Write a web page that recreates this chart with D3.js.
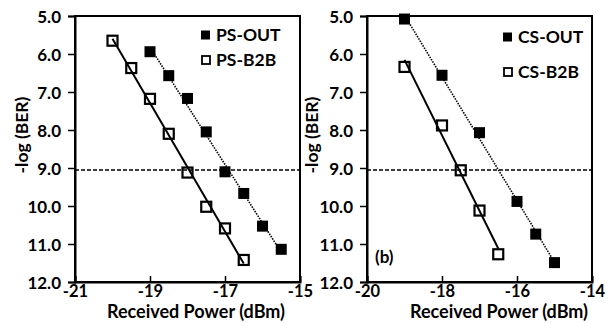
<!DOCTYPE html>
<html>
<head>
<meta charset="utf-8">
<script src="https://cdn.jsdelivr.net/npm/d3@7"></script>
<style>
  html, body { margin: 0; padding: 0; background: #fff; }
  svg { display: block; }
  text { font-family: Lato, "Open Sans", sans-serif; font-weight: bold; fill: #000; }
</style>
</head>
<body>
<svg id="chart" width="609" height="323"></svg>
<script>
// ---- Data ----
const yTicks = [5, 6, 7, 8, 9, 10, 11, 12];
const yTickLabels = ["5.0", "6.0", "7.0", "8.0", "9.0", "10.0", "11.0", "12.0"];
const threshold = 9.05;

// Panel (a)
const psXDomain = [-21, -15];
const psXTicks = [-21, -19, -17, -15];
const psOutX = [-19, -18.5, -18, -17.5, -17, -16.5, -16, -15.5];
const psOutY = [5.94, 6.57, 7.17, 8.05, 9.1, 9.67, 10.53, 11.14];
const psB2BX = [-20, -19.5, -19, -18.5, -18, -17.5, -17, -16.5];
const psB2BY = [5.65, 6.37, 7.18, 8.10, 9.12, 10.02, 10.59, 11.42];

// Panel (b)
const csXDomain = [-20, -14];
const csXTicks = [-20, -18, -16, -14];
const csOutX = [-19, -18, -17, -16, -15.5, -15];
const csOutY = [5.08, 6.56, 8.07, 9.88, 10.74, 11.49];
const csB2BX = [-19, -18, -17.5, -17, -16.5];
const csB2BY = [6.34, 7.88, 9.06, 10.12, 11.27];

const svg = d3.select("#chart");

function fit(xs, ys) {
  const mx = d3.mean(xs), my = d3.mean(ys);
  let sxy = 0, sxx = 0;
  xs.forEach((x, i) => { sxy += (x - mx) * (ys[i] - my); sxx += (x - mx) * (x - mx); });
  const b = sxy / sxx, a = my - b * mx;
  const x0 = d3.min(xs), x1 = d3.max(xs);
  return [[x0, a + b * x0], [x1, a + b * x1]];
}

function panel(cfg) {
  const g = svg.append("g");
  const x = d3.scaleLinear().domain(cfg.xDomain).range([cfg.left, cfg.right]);
  const y = d3.scaleLinear().domain([5, 12]).range([16, 282]);

  // frame
  g.append("rect").attr("x", cfg.left).attr("y", 16)
    .attr("width", cfg.right - cfg.left).attr("height", 282 - 16)
    .attr("fill", "none").attr("stroke", "#000").attr("stroke-width", 2);

  // y axis
  const ya = d3.axisLeft(y).tickValues(yTicks)
    .tickFormat((d, i) => yTickLabels[i]).tickSize(7).tickPadding(7);
  const yg = g.append("g").attr("transform", `translate(${cfg.left},0)`).call(ya);
  yg.select(".domain").attr("stroke-width", 2);
  yg.selectAll(".tick line").attr("stroke-width", 1.5);
  yg.selectAll(".tick text").style("font-size", "17px").attr("dy", "0.36em");

  // x axis (ticks inward)
  const xa = d3.axisBottom(x).tickValues(cfg.xTicks).tickSize(-6).tickPadding(10)
    .tickFormat(d => d3.format("d")(d).replace("−", "-"));
  const xg = g.append("g").attr("transform", `translate(0,282)`).call(xa);
  xg.select(".domain").attr("stroke-width", 2);
  xg.selectAll(".tick line").attr("stroke-width", 1.5);
  xg.selectAll(".tick text").style("font-size", "16.5px").attr("y", 3).attr("dy", "0.71em");

  // threshold
  g.append("line").attr("x1", cfg.left).attr("x2", cfg.right)
    .attr("y1", y(threshold)).attr("y2", y(threshold))
    .attr("stroke", "#000").attr("stroke-width", 1.5).attr("stroke-dasharray", "4,2");

  const line = d3.line().x(d => x(d[0])).y(d => y(d[1]));
  // OUT fit (dotted)
  g.append("path").attr("d", line(fit(cfg.outX, cfg.outY)))
    .attr("fill", "none").attr("stroke", "#000").attr("stroke-width", 1.6)
    .attr("stroke-dasharray", "1.5,1.2");
  // B2B fit (solid)
  g.append("path").attr("d", line(fit(cfg.b2bX, cfg.b2bY)))
    .attr("fill", "none").attr("stroke", "#000").attr("stroke-width", 2);

  // markers
  g.selectAll(".out").data(cfg.outX.map((v, i) => [v, cfg.outY[i]])).enter()
    .append("rect").attr("x", d => x(d[0]) - 5.5).attr("y", d => y(d[1]) - 5.5)
    .attr("width", 11).attr("height", 11).attr("fill", "#000");
  g.selectAll(".b2b").data(cfg.b2bX.map((v, i) => [v, cfg.b2bY[i]])).enter()
    .append("rect").attr("x", d => x(d[0]) - 5).attr("y", d => y(d[1]) - 5)
    .attr("width", 10).attr("height", 10).attr("fill", "none")
    .attr("stroke", "#000").attr("stroke-width", 2.2);

  // legend
  const L = cfg.legend;
  g.append("rect").attr("x", L.x).attr("y", L.y1 - 4.5).attr("width", 9).attr("height", 9).attr("fill", "#000");
  g.append("rect").attr("x", L.x + 1).attr("y", L.y2 - 4).attr("width", 8).attr("height", 8)
    .attr("fill", "none").attr("stroke", "#000").attr("stroke-width", 1.8);
  g.append("text").attr("x", L.x + 15).attr("y", L.y1).attr("dy", "0.36em")
    .style("font-size", "17.5px").text(cfg.names[0]);
  g.append("text").attr("x", L.x + 15).attr("y", L.y2).attr("dy", "0.36em")
    .style("font-size", "17.5px").text(cfg.names[1]);

  // titles
  g.append("text").attr("transform", `translate(${cfg.yTitleX},135) rotate(-90)`)
    .attr("text-anchor", "middle").style("font-size", "17.5px").text("-log (BER)");
  g.append("text").attr("x", cfg.xTitleX).attr("y", 318)
    .attr("text-anchor", "middle").style("font-size", "18px").text("Received Power (dBm)");

  if (cfg.tag) {
    g.append("text").attr("x", cfg.left + 8).attr("y", 263)
      .style("font-size", "17px").text(cfg.tag);
  }
}

panel({
  left: 75, right: 300, xDomain: psXDomain, xTicks: psXTicks,
  outX: psOutX, outY: psOutY, b2bX: psB2BX, b2bY: psB2BY,
  names: ["PS-OUT", "PS-B2B"], legend: { x: 201, y1: 35, y2: 60 },
  yTitleX: 28, xTitleX: 196
});
panel({
  left: 367, right: 592, xDomain: csXDomain, xTicks: csXTicks,
  outX: csOutX, outY: csOutY, b2bX: csB2BX, b2bY: csB2BY,
  names: ["CS-OUT", "CS-B2B"], legend: { x: 503, y1: 37, y2: 72 },
  yTitleX: 318, xTitleX: 499, tag: "(b)"
});
</script>
</body>
</html>
